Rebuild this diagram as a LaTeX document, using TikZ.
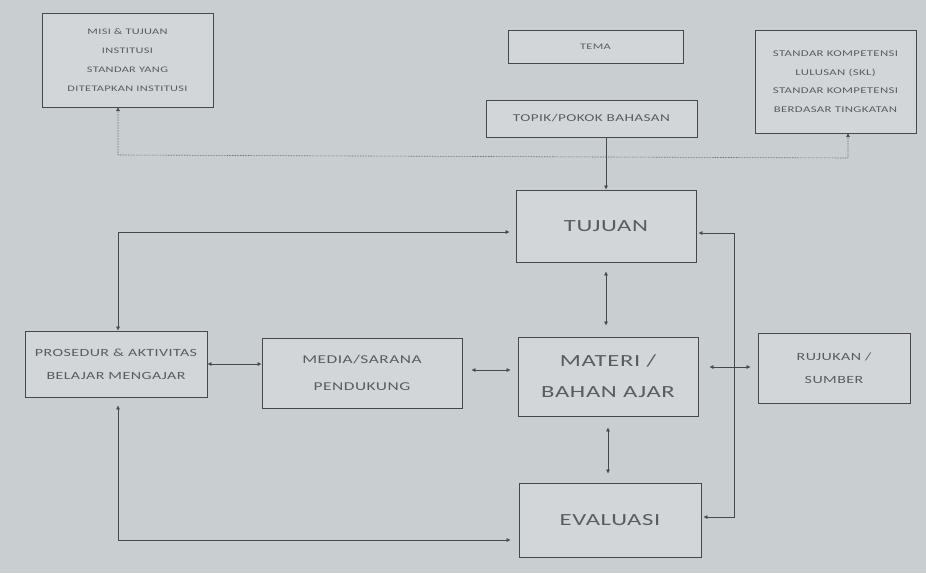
\documentclass[tikz,border=0pt]{standalone}
\usepackage{fontspec}
\setmainfont{Carlito}
\newfontfamily\lebar[FakeStretch=1.45,LetterSpace=4]{Carlito}
\usetikzlibrary{arrows.meta}

\definecolor{kertas}{RGB}{201,206,209}
\definecolor{isi}{RGB}{210,214,216}
\definecolor{garis}{RGB}{70,72,74}
\definecolor{tinta}{RGB}{90,93,95}

\tikzset{
  kotak/.style={draw=garis,fill=isi,thick,align=center,text=tinta,inner sep=2pt},
  panah/.style={{Latex[length=4pt,width=4pt]}-{Latex[length=4pt,width=4pt]},garis,semithick},
  kecil/.style={font=\lebar\fontsize{8.5}{19}\selectfont},
  sedang/.style={font=\lebar\fontsize{11}{23}\selectfont},
  besar/.style={font=\lebar\fontsize{17}{31}\selectfont}
}

\begin{document}
\begin{tikzpicture}[x=1pt,y=-1pt]
  \fill[kertas] (0,0) rectangle (926,573);
  \useasboundingbox (0,0) rectangle (926,573);
  % kotak atas
  \node[kotak,kecil,minimum width=171pt,minimum height=94pt] (misi) at (127.5,60) {MISI \& TUJUAN\\INSTITUSI\\STANDAR YANG\\DITETAPKAN INSTITUSI};
  \node[kotak,kecil,minimum width=175pt,minimum height=33pt] (tema) at (595.5,46.5) {TEMA};
  \node[kotak,kecil,font=\lebar\fontsize{10.5}{12}\selectfont,minimum width=211pt,minimum height=37pt] (topik) at (591.5,118.5) {TOPIK/POKOK BAHASAN};
  \node[kotak,kecil,font=\lebar\fontsize{8.8}{18.5}\selectfont,minimum width=161pt,minimum height=103pt] (standar) at (835.5,81.5) {STANDAR KOMPETENSI\\LULUSAN (SKL)\\STANDAR KOMPETENSI\\BERDASAR TINGKATAN};
  % kotak tengah
  \node[kotak,besar,minimum width=180pt,minimum height=72pt] (tujuan) at (606,226) {TUJUAN};
  \node[kotak,besar,minimum width=180pt,minimum height=79pt] (materi) at (608,376.5) {MATERI /\\BAHAN AJAR};
  \node[kotak,besar,minimum width=182pt,minimum height=74pt] (evaluasi) at (610,520) {EVALUASI};
  \node[kotak,sedang,minimum width=182pt,minimum height=66pt] (prosedur) at (116,364) {PROSEDUR \& AKTIVITAS\\BELAJAR MENGAJAR};
  \node[kotak,sedang,font=\lebar\fontsize{12}{27}\selectfont,minimum width=200pt,minimum height=70pt] (media) at (362,373) {MEDIA/SARANA\\PENDUKUNG};
  \node[kotak,sedang,minimum width=152pt,minimum height=70pt] (rujukan) at (834,368) {RUJUKAN /\\SUMBER};

  % garis titik-titik antara misi dan standar
  \coordinate (m1) at (118,107);
  \coordinate (s1) at (848,133);
  \draw[panah,densely dotted] (m1) -- (118,155) -- (848,158) -- (s1);

  \draw[-{Latex[length=4pt,width=4pt]},garis,semithick] (topik.south -| tujuan.north) -- (tujuan.north);
  \draw[panah,shorten <=9pt,shorten >=11pt] (tujuan.south) -- (materi.north -| tujuan.south);
  \draw[panah,shorten <=11pt,shorten >=9pt] (materi.south) -- (evaluasi.north -| materi.south);
  \draw[panah] (prosedur.east) -- (media.west |- prosedur.east);
  \draw[panah,shorten <=9pt,shorten >=7pt] (media.east |- 0,370) -- (materi.west |- 0,370);
  \draw[panah,shorten <=11pt,shorten >=7pt] (materi.east |- 0,367) -- (rujukan.west |- 0,367);

  % jalur samping
  \draw[panah,shorten >=6pt] (prosedur.north -| 118,0) -- (118,232) -- (tujuan.west |- 0,232);
  \draw[panah,shorten <=8pt,shorten >=8pt] (prosedur.south -| 118,0) -- (118,540) -- (evaluasi.west |- 0,540);
  \draw[panah,shorten <=2pt,shorten >=2pt] (tujuan.east |- 0,233) -- (734,233) -- (734,517) -- (evaluasi.east |- 0,517);
\end{tikzpicture}
\end{document}
